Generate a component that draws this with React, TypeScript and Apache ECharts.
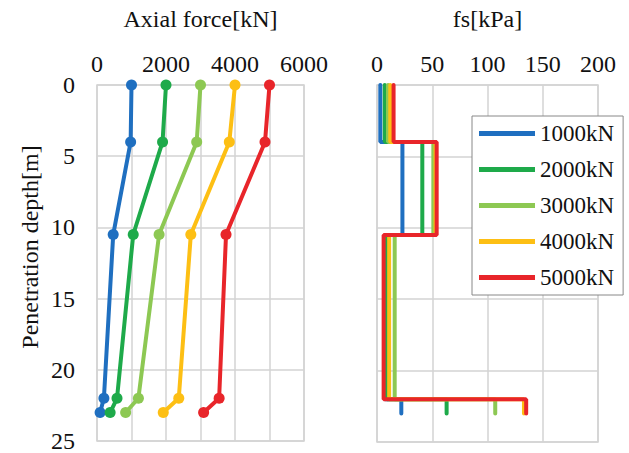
import React, { useEffect, useRef } from "react";
import * as echarts from "echarts";

const seriesNames = ["1000kN", "2000kN", "3000kN", "4000kN", "5000kN"];
const colors = ["#1f6fc0", "#1eaa4a", "#8dc853", "#fdbf14", "#e8252a"];

// Axial force chart: depth points and axial force values per load
const forceDepths = [0, 4, 10.5, 22, 23];
const axialForce = [
  [1000, 975, 470, 200, 90],
  [2000, 1900, 1050, 580, 380],
  [3000, 2890, 1800, 1200, 830],
  [4000, 3835, 2720, 2370, 1920],
  [5000, 4870, 3740, 3540, 3090],
];

// fs chart: segment boundaries and fs value per segment
const fsDepths = [0, 4, 10.5, 22, 23];
const fsValues = [
  [3, 23, 7, 22],
  [7, 41, 9, 63],
  [10, 51, 16, 107],
  [12, 53, 11, 133],
  [15, 54, 6, 135],
];

const forceTicks = [0, 2000, 4000, 6000];

const FONT = "'Liberation Serif', 'Times New Roman', serif";
const GRID_COLOR = "#d3d3d3";

export default function App() {
  const ref = useRef<HTMLDivElement>(null);

  useEffect(() => {
    if (!ref.current) return;
    const chart = echarts.init(ref.current, null, { renderer: "svg" });

    const leftSeries = seriesNames.map((name, i) => ({
      name,
      type: "line",
      xAxisIndex: 0,
      yAxisIndex: 0,
      data: forceDepths.map((d, j) => [axialForce[i][j], d]),
      symbol: "circle",
      symbolSize: 11,
      lineStyle: { width: 4, color: colors[i] },
      itemStyle: { color: colors[i] },
      color: colors[i],
      z: 2 + i,
    }));

    const rightSeries = seriesNames.map((name, i) => {
      const pts: number[][] = [];
      fsValues[i].forEach((v, k) => {
        pts.push([v, fsDepths[k]]);
        pts.push([v, fsDepths[k + 1]]);
      });
      return {
        name,
        type: "line",
        xAxisIndex: 1,
        yAxisIndex: 1,
        data: pts,
        symbol: "none",
        lineStyle: { width: 4, color: colors[i], cap: "round" },
        itemStyle: { color: colors[i] },
        color: colors[i],
        z: 2 + i,
      };
    });

    const axisText = { fontFamily: FONT, fontSize: 24, color: "#111" };

    chart.setOption({
      animation: false,
      textStyle: { fontFamily: FONT },
      grid: [
        {
          left: 97,
          top: 85,
          width: 207,
          height: 357,
          show: true,
          borderColor: GRID_COLOR,
          borderWidth: 1.5,
        },
        {
          left: 377,
          top: 85,
          width: 221,
          height: 357,
          show: true,
          borderColor: GRID_COLOR,
          borderWidth: 1.5,
        },
      ],
      xAxis: [
        {
          type: "value",
          gridIndex: 0,
          position: "top",
          min: 0,
          max: 6000,
          interval: 1000,
          name: "Axial force[kN]",
          nameLocation: "middle",
          nameGap: 54,
          nameTextStyle: axisText,
          axisLine: { show: false },
          axisTick: { show: false },
          axisLabel: {
            ...axisText,
            margin: 9,
            formatter: (v: number) => (forceTicks.includes(v) ? String(v) : ""),
          },
          splitLine: { show: true, lineStyle: { color: GRID_COLOR, width: 1.5 } },
        },
        {
          type: "value",
          gridIndex: 1,
          position: "top",
          min: 0,
          max: 200,
          interval: 50,
          name: "fs[kPa]",
          nameLocation: "middle",
          nameGap: 54,
          nameTextStyle: axisText,
          axisLine: { show: false },
          axisTick: { show: false },
          axisLabel: { ...axisText, margin: 9 },
          splitLine: { show: true, lineStyle: { color: GRID_COLOR, width: 1.5 } },
        },
      ],
      yAxis: [
        {
          type: "value",
          gridIndex: 0,
          inverse: true,
          min: 0,
          max: 25,
          interval: 5,
          axisLine: { show: false },
          axisTick: { show: false },
          axisLabel: { ...axisText, margin: 22 },
          splitLine: { show: true, lineStyle: { color: GRID_COLOR, width: 1.5 } },
        },
        {
          type: "value",
          gridIndex: 1,
          inverse: true,
          min: 0,
          max: 25,
          interval: 5,
          axisLine: { show: false },
          axisTick: { show: false },
          axisLabel: { show: false },
          splitLine: { show: true, lineStyle: { color: GRID_COLOR, width: 1.5 } },
        },
      ],
      legend: {
        data: seriesNames.map((n) => ({ name: n, icon: "rect" })),
        orient: "vertical",
        left: 472,
        top: 116,
        itemWidth: 56,
        itemHeight: 5,
        itemGap: 13,
        padding: [6, 9, 6, 7],
        backgroundColor: "#fff",
        borderColor: "#888",
        borderWidth: 1,
        borderRadius: 0,
        textStyle: { fontFamily: FONT, fontSize: 23, color: "#111", lineHeight: 23, padding: [0, 0, 0, 0] },
        itemStyle: { borderWidth: 0 },
        selectedMode: false,
        z: 20,
      },
      graphic: [
        {
          type: "text",
          x: 30,
          y: 247,
          rotation: Math.PI / 2,
          style: {
            text: "Penetration depth[m]",
            fontFamily: FONT,
            fontSize: 24,
            fill: "#111",
            textAlign: "center",
            textVerticalAlign: "middle",
          },
        },
      ],
      series: [...leftSeries, ...rightSeries],
    });

    return () => chart.dispose();
  }, []);

  return (
    <div
      ref={ref}
      style={{ position: "fixed", left: 0, top: 0, width: 629, height: 453, background: "#fff" }}
    />
  );
}
